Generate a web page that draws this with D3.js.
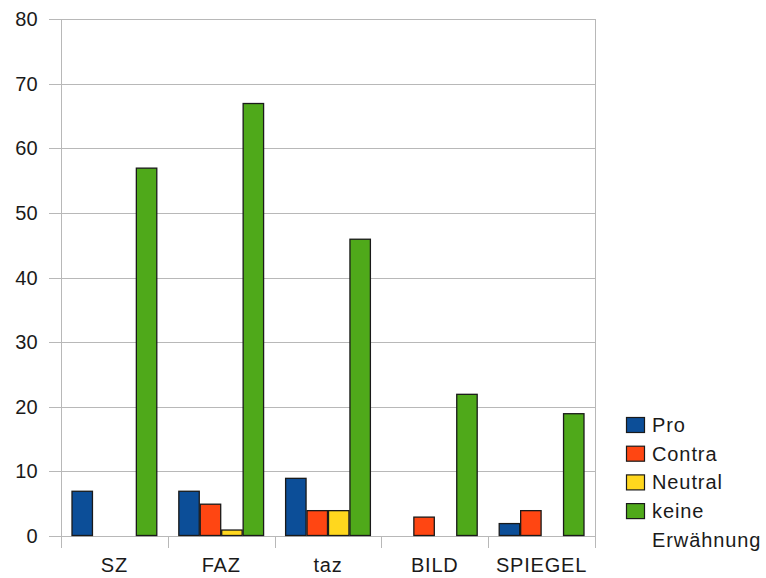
<!DOCTYPE html>
<html><head><meta charset="utf-8">
<script src="https://cdn.jsdelivr.net/npm/d3@7"></script>
<style>
body{margin:0;background:#fff;}
text{font-family:"Liberation Sans",Arial,Helvetica,sans-serif;fill:#1a1a1a;}
</style></head>
<body>
<svg id="chart" width="766" height="578"></svg>
<script>
const categories = ["SZ","FAZ","taz","BILD","SPIEGEL"];
const seriesNames = ["Pro","Contra","Neutral","keine Erwähnung"];
const pro = [7,7,9,0,2];
const contra = [0,5,4,3,4];
const neutral = [0,1,4,0,0];
const keine = [57,67,46,22,19];
const yTicks = [0,10,20,30,40,50,60,70,80];
const colors = ["#0c4e98","#ff4612","#ffd71e","#4fa91a"];

(function(){
const series = [pro, contra, neutral, keine];
const svg = d3.select("#chart");
const mLeft = 61, mRight = 595, mTop = 19, mBottom = 536;

const x = d3.scaleBand().domain(categories).range([mLeft, mRight]).paddingInner(0).paddingOuter(0);
const x1 = d3.scaleBand().domain(d3.range(series.length)).range([0, x.bandwidth()]).paddingOuter(0.49).paddingInner(0);
const y = d3.scaleLinear().domain([0,80]).range([mBottom, mTop]);

svg.append("g").selectAll("line").data(yTicks).join("line")
  .attr("x1", mLeft-12).attr("x2", mRight)
  .attr("y1", d=>Math.round(y(d))+0.5).attr("y2", d=>Math.round(y(d))+0.5)
  .attr("stroke", "#b8b8b8").attr("stroke-width", 1);

svg.append("line").attr("x1", mLeft+0.5).attr("x2", mLeft+0.5)
  .attr("y1", mTop).attr("y2", mBottom+12).attr("stroke","#b8b8b8");
svg.append("line").attr("x1", mRight+0.5).attr("x2", mRight+0.5)
  .attr("y1", mTop).attr("y2", mBottom+12).attr("stroke","#b8b8b8");

svg.append("g").selectAll("line").data(categories.slice(1)).join("line")
  .attr("x1", d=>Math.round(x(d))+0.5).attr("x2", d=>Math.round(x(d))+0.5)
  .attr("y1", mBottom).attr("y2", mBottom+12).attr("stroke","#b8b8b8");

svg.append("g").selectAll("text").data(yTicks).join("text")
  .attr("x", 38).attr("y", d=>y(d)+7)
  .attr("text-anchor","end").attr("font-size", 20).attr("letter-spacing", 0.3).text(d=>d);

const groups = svg.append("g").selectAll("g").data(categories).join("g")
  .attr("transform", d=>`translate(${x(d)},0)`);
groups.selectAll("rect").data((c,i)=>series.map((s,j)=>({j, v:s[i]})).filter(d=>d.v>0)).join("rect")
  .attr("x", d=>x1(d.j)+0.5).attr("width", x1.bandwidth()-1)
  .attr("y", d=>y(d.v)+0.5).attr("height", d=>y(0)-y(d.v)-1)
  .attr("fill", d=>colors[d.j]).attr("stroke","#1a1a1a").attr("stroke-width",1.3);

svg.append("g").selectAll("text").data(categories).join("text")
  .attr("x", d=>x(d)+x.bandwidth()/2).attr("y", 572)
  .attr("text-anchor","middle").attr("font-size", 20).attr("letter-spacing", 0.8).text(d=>d);

const legY = [425, 453.7, 482.4, 511.1];
const leg = svg.append("g");
seriesNames.forEach((name,i)=>{
  leg.append("rect").attr("x", 626.5).attr("y", legY[i]-7.5).attr("width",18).attr("height",15)
    .attr("fill", colors[i]).attr("stroke","#1a1a1a").attr("stroke-width",1.2);
  const parts = name === "keine Erwähnung" ? ["keine","Erwähnung"] : [name];
  parts.forEach((p,k)=>{
    leg.append("text").attr("x", 652).attr("y", legY[i]+7+k*28.7)
      .attr("font-size",20).attr("letter-spacing", 0.9).text(p);
  });
});
})();
</script>
</body></html>
